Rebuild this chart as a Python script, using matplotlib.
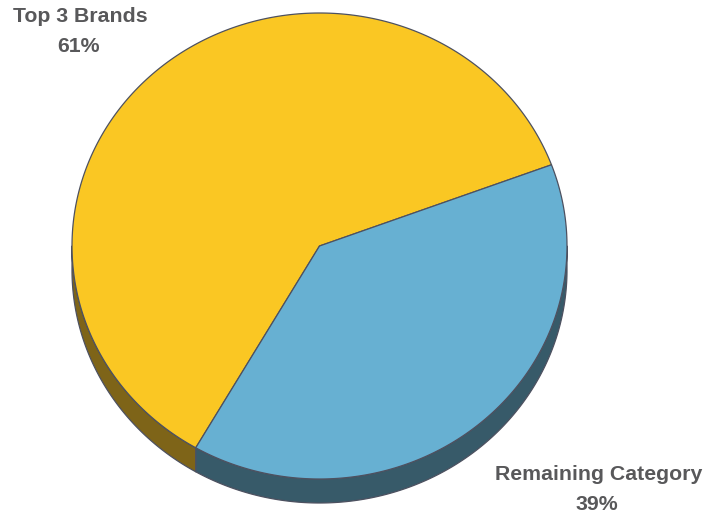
"""Share of category: top 3 brands vs the rest, drawn as a tilted 3-D pie."""

import matplotlib
matplotlib.use("Agg")
import matplotlib.pyplot as plt
import numpy as np
from matplotlib.patches import Polygon

# ---------------------------------------------------------------------------
# Data
# ---------------------------------------------------------------------------

labels = ["Top 3 Brands", "Remaining Category"]
shares = [61, 39]

top_colors = ["#FAC723", "#67B0D2"]
side_colors = ["#7E6418", "#375A69"]
edge_color = "#4D5160"
text_color = "#58585A"

# pie geometry in pixel units (y grows downward)
CX, CY = 319.5, 246.0
RX, RY = 247.5, 233.0
DEPTH = 24.0
START_ANGLE = 240.0  # first slice starts here and runs clockwise


def ellipse_pts(t0, t1, dy=0.0, n=240):
    t = np.radians(np.linspace(t0, t1, n))
    return np.column_stack([CX + RX * np.cos(t), CY - RY * np.sin(t) + dy])


def visible_side(lo, hi):
    """Parts of the ccw arc [lo, hi] that lie on the front (lower) half."""
    parts = []
    for k in range(-1, 3):
        a, b = max(lo, 180 + 360 * k), min(hi, 360 + 360 * k)
        if b > a:
            parts.append((a, b))
    return parts


fig = plt.figure(figsize=(7.08, 5.14), dpi=100)
ax = fig.add_axes([0, 0, 1, 1])
ax.set_xlim(0, 708)
ax.set_ylim(514, 0)
ax.axis("off")

# slice angle ranges, clockwise from START_ANGLE
total = float(sum(shares))
spans = []
ang = START_ANGLE
for v in shares:
    sweep = 360.0 * v / total
    spans.append((ang - sweep, ang))  # (lo, hi) in ccw terms
    ang -= sweep

# sides first so the top faces sit over them
for (lo, hi), col in zip(spans, side_colors):
    for a, b in visible_side(lo, hi):
        top = ellipse_pts(a, b)
        bot = ellipse_pts(b, a, dy=DEPTH)
        ax.add_patch(Polygon(np.vstack([top, bot]), closed=True,
                             facecolor=col, edgecolor=edge_color, lw=0.9,
                             joinstyle="round"))

for (lo, hi), col in zip(spans, top_colors):
    arc = ellipse_pts(lo, hi)
    pts = np.vstack([[CX, CY], arc])
    ax.add_patch(Polygon(pts, closed=True, facecolor=col,
                         edgecolor=edge_color, lw=0.9, joinstyle="round"))

# labels
font = dict(family=["Liberation Sans", "DejaVu Sans"], fontsize=15.3,
            fontweight="bold", color=text_color, ha="center", va="baseline")
label_pos = [(80.5, 22.5), (598.5, 480.5)]
for name, v, (x, y) in zip(labels, shares, label_pos):
    ax.text(x, y, name, **font)
    ax.text(x - 1.5, y + 30, f"{v}%", **font)

fig.savefig("out.png", dpi=100)
